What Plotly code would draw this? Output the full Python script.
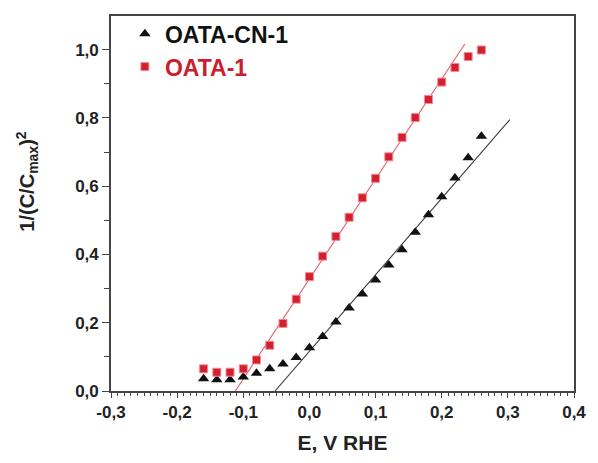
import numpy as np
import plotly.graph_objects as go

# ---- data ----
E_cn = [-0.16, -0.14, -0.12, -0.10, -0.08, -0.06, -0.04, -0.02, 0.00, 0.02, 0.04,
        0.06, 0.08, 0.10, 0.12, 0.14, 0.16, 0.18, 0.20, 0.22, 0.24, 0.26]
y_cn = [0.036, 0.033, 0.033, 0.041, 0.052, 0.065, 0.079, 0.098, 0.127, 0.160, 0.202,
        0.243, 0.284, 0.325, 0.369, 0.414, 0.465, 0.516, 0.569, 0.624, 0.683, 0.746]

E_o = [-0.16, -0.14, -0.12, -0.10, -0.08, -0.06, -0.04, -0.02, 0.00, 0.02, 0.04,
       0.06, 0.08, 0.10, 0.12, 0.14, 0.16, 0.18, 0.20, 0.22, 0.24, 0.26]
y_o = [0.065, 0.055, 0.055, 0.065, 0.091, 0.134, 0.198, 0.269, 0.335, 0.395, 0.453,
       0.509, 0.566, 0.623, 0.686, 0.743, 0.801, 0.854, 0.905, 0.948, 0.980, 0.999]

# linear fits (extrapolation lines): x-intercept, slope, x-range
fit_cn_x0 = -0.052
fit_cn_slope = 2.24
fit_cn_range = [-0.052, 0.303]

fit_o_x0 = -0.112
fit_o_slope = 2.93
fit_o_range = [-0.112, 0.235]

x_ticks = [-0.3, -0.2, -0.1, 0.0, 0.1, 0.2, 0.3, 0.4]
x_ticktext = ["-0,3", "-0,2", "-0,1", "0,0", "0,1", "0,2", "0,3", "0,4"]
y_ticks = [0.0, 0.2, 0.4, 0.6, 0.8, 1.0]
y_ticktext = ["0,0", "0,2", "0,4", "0,6", "0,8", "1,0"]

FONT = "Liberation Sans, Arial, sans-serif"

fig = go.Figure()

fx = np.array(fit_cn_range)
fig.add_trace(go.Scatter(x=fx, y=fit_cn_slope * (fx - fit_cn_x0), mode="lines",
                         line=dict(color="#3a3a3a", width=1.1), showlegend=False,
                         hoverinfo="skip"))
fx = np.array(fit_o_range)
fig.add_trace(go.Scatter(x=fx, y=fit_o_slope * (fx - fit_o_x0), mode="lines",
                         line=dict(color="#e0606c", width=1.1), showlegend=False,
                         hoverinfo="skip"))

fig.add_trace(go.Scatter(x=E_cn, y=y_cn, mode="markers", name="OATA-CN-1",
                         marker=dict(symbol="triangle-up", size=10, color="#111111")))
fig.add_trace(go.Scatter(x=E_o, y=y_o, mode="markers", name="<span style='color:#c8202c'>OATA-1</span>",
                         marker=dict(symbol="square", size=8, color="#d41f2e",
                                     line=dict(color="#f08a94", width=1))))

axis_common = dict(
    showline=True, linecolor="#444444", linewidth=1.6, mirror=True,
    showgrid=False, zeroline=False,
    ticks="outside", tickwidth=1.2, tickcolor="#444444",
    tickfont=dict(family=FONT, size=17, color="#222222", weight="bold"),
)

fig.update_xaxes(range=[-0.3, 0.4], tickvals=x_ticks, ticktext=x_ticktext, ticklen=5,
                 minor=dict(dtick=0.01, ticks="outside", ticklen=3, tickcolor="#444444", tickwidth=1),
                 title=dict(text="E, V RHE", font=dict(family=FONT, size=21, color="#222222", weight="bold"),
                            standoff=14),
                 **axis_common)
fig.update_yaxes(range=[0, 1.0986], tickvals=y_ticks, ticktext=y_ticktext, ticklen=7,
                 minor=dict(dtick=0.1, ticks="outside", ticklen=5, tickcolor="#444444", tickwidth=1),
                 **axis_common)

fig.add_annotation(text="1/(C/C<sub>max</sub>)<sup>2</sup>", textangle=-90,
                   xref="paper", yref="paper", x=-0.18, y=0.56,
                   xanchor="center", yanchor="middle", showarrow=False,
                   font=dict(family=FONT, size=20, color="#222222", weight="bold"))

fig.update_layout(
    width=598, height=463,
    margin=dict(l=111, r=19, t=14, b=70),
    paper_bgcolor="white", plot_bgcolor="white",
    showlegend=True,
    legend=dict(x=0.03, y=1.01, xanchor="left", yanchor="top",
                bgcolor="rgba(0,0,0,0)", borderwidth=0,
                font=dict(family=FONT, size=23, color="#111111", weight="bold"),
                itemwidth=30, tracegroupgap=0),
)

fig.write_html("out.html")
